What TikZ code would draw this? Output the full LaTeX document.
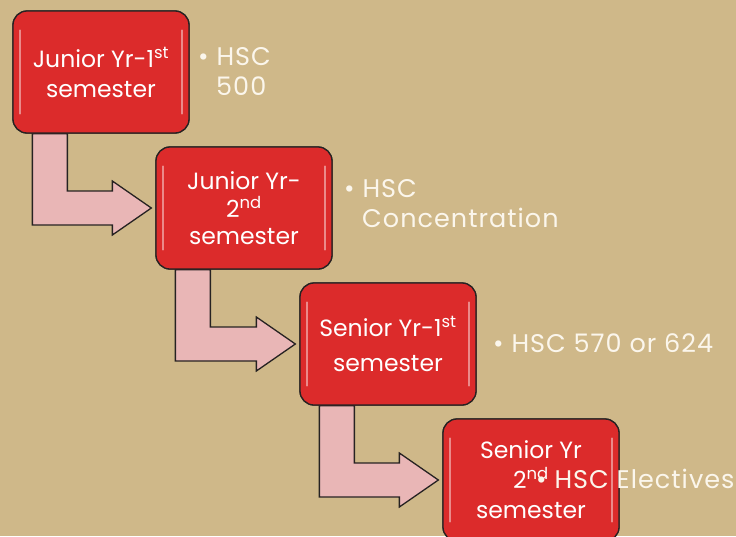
\documentclass[tikz,border=0pt]{standalone}
\usepackage{fontspec}
\setmainfont{Poppins}
\usetikzlibrary{calc}
\definecolor{sand}{HTML}{CFB889}
\definecolor{boxred}{HTML}{DC2B2B}
\definecolor{edge}{HTML}{262222}
\definecolor{pinkarrow}{HTML}{E9B6B6}
\definecolor{cream}{HTML}{FBF6EC}
\tikzset{
  stage/.style={rectangle, rounded corners=14pt, draw=edge, line width=1.3pt, fill=boxred,
    minimum width=176pt, minimum height=122pt, text=white, align=center,
    font=\fontsize{23.5}{30}\selectfont},
  flow/.style={draw=edge, line width=1.3pt, fill=pinkarrow},
  gloss/.style={draw=white, opacity=0.45, line width=2pt, line cap=round},
  note/.style={text=cream, inner sep=0pt, anchor=base west,
    font=\fontsize{25.5}{30}\selectfont\addfontfeatures{LetterSpace=4}}
}
\begin{document}
\begin{tikzpicture}[x=1pt, y=-1pt]
  \fill[sand] (0,0) rectangle (736,536);
  \useasboundingbox (0,0) rectangle (736,536);

  \node[stage] (jr1) at (101,72) {};
  \node[stage] (jr2) at (244,208) {};
  \node[stage] (sr1) at (388,344) {};
  \node[stage] (sr2) at (531,480) {};

  \foreach \a/\b in {jr1/jr2, jr2/sr1, sr1/sr2}
    \draw[flow] ($(\a.south west)+(20,0)$) -- ++(35,0) |- ($(\b.west)+(-43,-17)$) -- ++(0,-10)
      -- ($(\b.west)+(-4,0)$) -- ($(\b.west)+(-43,27)$) -- ++(0,-10) -| ($(\a.south west)+(20,0)$) -- cycle;

  % boxes again on top of the arrow stems
  \foreach \n/\t in {jr1/{Junior Yr-1\textsuperscript{st}\\semester}, jr2/{Junior Yr-\\[-2pt]2\textsuperscript{nd}\\[-3pt]semester},
      sr1/{Senior Yr-1\textsuperscript{st}\\[5pt]semester}, sr2/{Senior Yr\\2\textsuperscript{nd}\\semester}} {
    \node[stage] at (\n) {\t};
    \draw[gloss] ($(\n.north west)+(8,20)$) -- ($(\n.south west)+(8,-20)$);
    \draw[gloss] ($(\n.north east)+(-8,20)$) -- ($(\n.south east)+(-8,-20)$);
  }

  \node[note] (b1) at (198,65) {\textbullet\ HSC};
  \node[note] (b1x) at (216,95) {500};
  \node[note] (b2) at (344,197) {\textbullet\ HSC};
  \node[note] (b2x) at (362,227) {Concentration};
  \node[note] (b3) at (493,352) {\textbullet\ HSC 570 or 624};
  \node[note] (b4) at (536,488) {\textbullet\ HSC Electives};
\end{tikzpicture}
\end{document}
